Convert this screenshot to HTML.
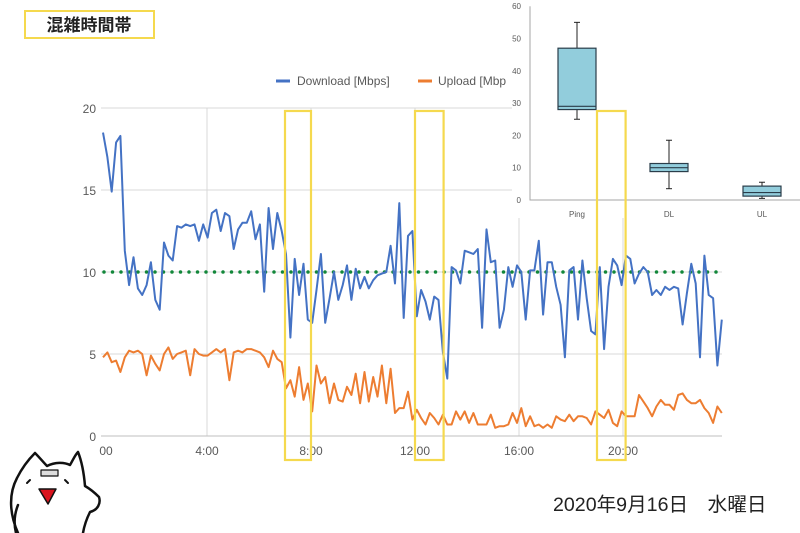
<!DOCTYPE html>
<html><head><meta charset="utf-8">
<style>
html,body{margin:0;padding:0;background:#fff;}
body{width:800px;height:533px;position:relative;overflow:hidden;font-family:"Liberation Sans","Noto Sans CJK JP",sans-serif;}
svg{position:absolute;left:0;top:0;}
</style></head>
<body>
<svg id="chart" width="800" height="533" viewBox="0 0 800 533" xmlns="http://www.w3.org/2000/svg">
  <g id="grid"></g>
  <g id="series"></g>
  <g id="axes"></g>
  <g id="legend">
    <line x1="276" y1="81" x2="290" y2="81" stroke="#4472c4" stroke-width="3"/>
    <text x="297" y="85" font-size="12" fill="#595959">Download [Mbps]</text>
    <line x1="418" y1="81" x2="432" y2="81" stroke="#ed7d31" stroke-width="3"/>
    <text x="438" y="85" font-size="12" fill="#595959">Upload [Mbp</text>
  </g>
  <g id="inset"></g>
  <g id="highlights"></g>
  <g>
    <rect x="25" y="11" width="129" height="27" fill="#fff" stroke="#f5d94e" stroke-width="2"/>
    <text x="89" y="31" font-size="17" font-weight="bold" text-anchor="middle" fill="#222">混雑時間帯</text>
  </g>
  <text x="553" y="511" font-size="19.6" fill="#222">2020年9月16日　水曜日</text>
  <g fill="#fff" stroke="#111" stroke-width="2.5" stroke-linecap="round" stroke-linejoin="round">
    <path d="M18,533 C10,515 8,495 17,478 C22,468 28,460 35,453 C40,458 44,463 47,466 C55,462 64,462 70,465 C73,460 75,455 78,452 C82,462 84,474 85,486 C92,490 96,494 99,497 C101,503 98,510 90,512 C86,520 84,527 83,533"/>
    <path d="M18,505 C14,515 14,525 16,533" fill="none"/>
    <rect x="41" y="470" width="17" height="6" fill="#ddd" stroke-width="1.2"/>
    <path d="M27,483 l3,-3 M65,480 l3,3" fill="none" stroke-width="2"/>
    <path d="M39,489 L56,489 L48,504 Z" fill="#d9141e" stroke-width="1.5"/>
  </g>
</svg>
<script>
// ---- data ----
const downloadMbps = [18.5,17.0,14.9,17.9,18.3,11.3,9.2,10.9,9.0,8.6,9.2,10.6,8.3,7.7,11.8,11.0,10.7,12.8,12.7,12.9,12.8,12.9,11.9,12.9,12.1,13.6,13.8,12.5,13.6,13.4,11.4,12.6,13.0,13.0,13.7,12.0,12.9,8.8,13.9,11.4,13.6,12.5,11.1,6.0,10.8,8.6,10.5,7.1,6.9,8.9,11.1,6.9,8.4,10.0,8.3,9.2,10.4,8.3,10.2,9.0,9.7,9.0,9.5,9.8,9.9,10.0,11.6,9.3,14.2,7.2,12.2,12.5,7.3,8.9,8.2,7.1,8.5,8.3,5.1,3.5,
10.3,10.1,9.3,11.3,11.2,11.1,11.4,6.6,12.6,10.6,10.7,6.6,7.7,10.3,9.1,10.4,10.0,7.1,10.1,10.1,11.9,7.4,10.6,10.6,9.1,8.0,4.8,10.1,10.3,7.1,10.7,8.4,6.4,6.2,10.3,5.3,9.1,10.8,10.4,9.2,11.0,10.8,9.3,9.9,10.3,10.0,8.6,8.9,8.6,9.1,8.9,9.1,9.0,6.8,8.7,10.5,9.3,4.8,11.0,8.6,8.4,4.3,7.1];
const uploadMbps = [4.8,5.1,4.5,4.6,3.9,4.8,5.2,5.1,5.2,5.0,3.7,4.9,4.4,4.0,5.0,5.4,4.7,5.0,5.1,5.2,3.7,5.3,5.0,4.9,4.9,5.1,5.3,5.1,5.3,3.4,5.1,5.2,5.1,5.3,5.3,5.2,5.1,4.8,4.2,5.2,4.7,4.5,2.9,3.4,2.4,4.2,2.2,3.2,1.5,4.3,3.2,3.6,2.0,3.2,2.2,2.1,3.0,2.5,3.8,2.0,3.9,2.1,3.6,2.4,4.3,2.0,4.1,1.4,1.7,1.7,2.7,1.0,1.6,1.1,0.7,1.4,1.1,0.7,1.3,0.7,
0.7,1.5,1.0,1.5,0.8,1.4,0.7,0.7,0.7,1.3,0.5,0.6,0.6,0.7,1.4,0.8,1.7,0.6,1.2,0.6,0.7,0.5,0.7,0.5,1.2,1.0,0.9,1.3,0.9,1.2,1.2,1.1,0.7,1.5,1.3,1.1,1.6,0.8,0.6,1.5,1.2,1.2,1.2,2.5,2.1,1.7,1.2,1.8,2.2,1.9,1.9,1.6,2.5,2.6,2.2,2.0,2.0,2.2,1.7,1.4,0.8,1.8,1.4];
const targetLine = 10;
const yTicks = [0,5,10,15,20];
const xTickHours = [0,4,8,12,16,20];
const xTickLabels = ["00","4:00","8:00","12:00","16:00","20:00"];
const startHour = 0, endHour = 23.8;
const highlightHours = [[7.0,8.0],[12.0,13.1],[19.0,20.1]];
// boxplot inset data
const boxCategories = ["Ping","DL","UL"];
const boxMin = [25,3.5,0.5];
const boxQ1 = [28,8.8,1.2];
const boxMedian = [29,10,2.3];
const boxQ3 = [47,11.3,4.3];
const boxMax = [55,18.5,5.5];
const boxTicks = [0,10,20,30,40,50,60];

// ---- scales ----
const X0=103, PXH=26, Y0=436, PXU=16.4;
const xH = h => X0 + (h - startHour)*PXH;
const yV = v => Y0 - v*PXU;
const NS="http://www.w3.org/2000/svg";
function mk(tag, attrs, parent){const e=document.createElementNS(NS,tag);for(const k in attrs)e.setAttribute(k,attrs[k]);parent.appendChild(e);return e;}
const grid=document.getElementById('grid'), series=document.getElementById('series'), axes=document.getElementById('axes');
const plotRight=722;

yTicks.forEach(v=>{
  if(v>0){const l=mk('line',{x1:101,x2:plotRight,y1:yV(v),y2:yV(v),stroke:'#d9d9d9','stroke-width':1},grid);
  
  }
  const t=mk('text',{x:96,y:yV(v)+5,'font-size':12,'text-anchor':'end',fill:'#595959'},axes);
  t.textContent=v;
  
  
});
xTickHours.forEach((h,i)=>{
  if(h>0){const l=mk('line',{x1:xH(h),x2:xH(h),y1:108,y2:436,stroke:'#d9d9d9','stroke-width':1},grid);
  
  }
  const t=mk('text',{x:h===0?106:xH(h),y:455,'font-size':12,'text-anchor':'middle',fill:'#595959'},axes);
  t.textContent=xTickLabels[i];
  
  
});
const ax=mk('line',{x1:101,x2:plotRight,y1:Y0,y2:Y0,stroke:'#bfbfbf','stroke-width':1},axes);



function linePath(arr){const n=arr.length;return arr.map((v,i)=>(i?'L':'M')+xH(startHour+(endHour-startHour)*i/(n-1)).toFixed(1)+','+yV(v).toFixed(1)).join('');}
const tl=mk('line',{x1:104,x2:plotRight,y1:yV(targetLine),y2:yV(targetLine),stroke:'#12873a','stroke-width':3.5,'stroke-dasharray':'0 8.5','stroke-linecap':'round'},series);


const up=mk('path',{d:linePath(uploadMbps),fill:'none',stroke:'#ed7d31','stroke-width':2,'stroke-linejoin':'round'},series);


const dn=mk('path',{d:linePath(downloadMbps),fill:'none',stroke:'#4472c4','stroke-width':2,'stroke-linejoin':'round'},series);



// inset boxplot
const inset=document.getElementById('inset');
const IY0=200, IPX=3.23, IX=[577,669,762];
const iy=v=>IY0-v*IPX;
const bg=mk('rect',{x:512,y:0,width:288,height:218,fill:'#fff'},inset);


const iax=mk('path',{d:`M530,${iy(60)}L530,${IY0}L800,${IY0}`,fill:'none',stroke:'#a6a6a6','stroke-width':1},inset);


boxTicks.forEach(v=>{
  const t=mk('text',{x:521,y:iy(v)+3,'font-size':8,'text-anchor':'end',fill:'#595959'},inset);
  t.textContent=v;
  
  
});
boxCategories.forEach((c,i)=>{
  const cx=IX[i], w=38;
  const g=mk('g',{},inset);
  
  
  mk('line',{x1:cx,x2:cx,y1:iy(boxMax[i]),y2:iy(boxMin[i]),stroke:'#222','stroke-width':1},g);
  mk('line',{x1:cx-3,x2:cx+3,y1:iy(boxMax[i]),y2:iy(boxMax[i]),stroke:'#222','stroke-width':1},g);
  mk('line',{x1:cx-3,x2:cx+3,y1:iy(boxMin[i]),y2:iy(boxMin[i]),stroke:'#222','stroke-width':1},g);
  mk('rect',{x:cx-w/2,y:iy(boxQ3[i]),width:w,height:iy(boxQ1[i])-iy(boxQ3[i]),fill:'#92cddc',stroke:'#2a3d4a','stroke-width':1.2},g);
  mk('line',{x1:cx-w/2,x2:cx+w/2,y1:iy(boxMedian[i]),y2:iy(boxMedian[i]),stroke:'#2a3d4a','stroke-width':1.2},g);
  const t=mk('text',{x:cx,y:217,'font-size':8,'text-anchor':'middle',fill:'#595959'},inset);
  t.textContent=c;
  
  
});

// highlight boxes
const hl=document.getElementById('highlights');
highlightHours.forEach((r,i)=>{
  const x1=xH(r[0]), x2=xH(r[1]);
  const b=mk('rect',{x:x1,y:111,width:x2-x1,height:349,fill:'none',stroke:'#f5d94e','stroke-width':2.2},hl);
  
  
});
</script>
</body></html>
